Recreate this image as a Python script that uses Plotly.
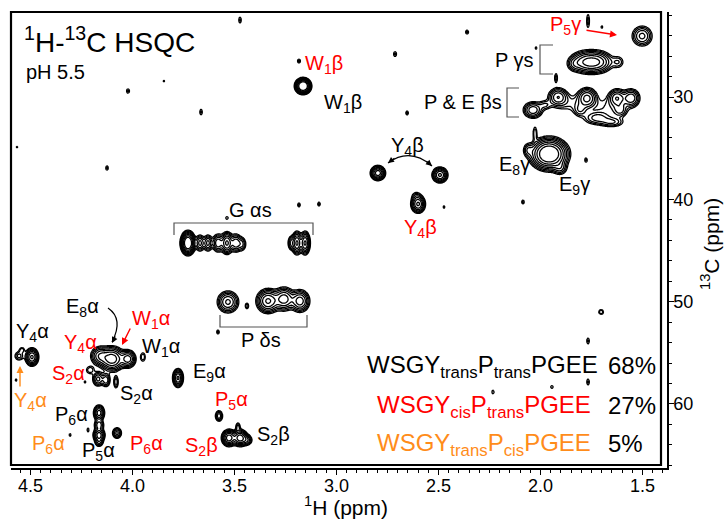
import numpy as np
import plotly.graph_objects as go

# ---------------- data: HSQC cross peaks ----------------
# 1H shift (ppm), 13C shift (ppm), Gaussian widths (ppm), relative intensity
peak_h = [3.473, 3.184, 3.164, 4.022, 3.664, 3.846, 4.566, 4.125, 2.360, 2.713,
          2.654, 1.767, 1.699, 1.502,
          1.780, 1.722, 1.620, 1.836,
          2.037, 1.914, 1.772, 1.625, 1.556, 1.723, 1.650, 1.806, 1.610, 1.924, 1.978,
          1.958, 1.904, 2.061, 2.027, 1.777,
          2.797, 2.493, 2.600, 2.610, 2.473, 2.086,
          3.728, 3.669, 3.630, 3.581, 3.537, 3.493, 3.463, 3.194, 3.154, 3.223,
          3.184, 3.086, 3.537,
          3.532, 3.439, 3.336, 3.257, 3.179, 3.581,
          4.493, 4.556, 4.542, 4.571,
          4.100, 4.159, 4.022, 3.949, 4.169, 4.130, 4.081, 4.208, 4.233,
          3.777,
          4.164, 4.164, 4.164, 4.164, 4.076, 4.218, 4.306, 3.576,
          3.527, 3.473, 3.439, 3.483,
          1.767, 1.767, 1.944, 2.233, 1.703, 2.022,
          1.850, 1.660]
peak_c = [22.48, 26.48, 28.93, 29.41, 31.47, 28.44, 34.89, 36.94, 23.65, 25.80,
          31.56, 22.57, 23.16, 24.04,
          26.58, 26.58, 26.58, 26.78,
          31.27, 30.00, 30.10, 30.10, 30.10, 32.05, 32.45, 31.27, 31.27, 28.14, 30.78,
          35.57, 36.94, 35.18, 33.52, 36.16,
          37.43, 37.62, 40.46, 39.67, 40.75, 40.26,
          44.27, 44.27, 44.27, 44.27, 44.27, 44.27, 44.37, 44.27, 44.27, 44.27,
          40.55, 40.46, 41.82,
          50.03, 50.42, 49.94, 49.74, 49.94, 52.97,
          55.41, 55.31, 54.72, 57.66,
          55.60, 55.31, 55.60, 55.41, 57.56, 57.66, 57.85, 56.68, 57.85,
          57.46,
          60.88, 62.05, 63.03, 63.71, 62.84, 62.54, 63.03, 61.17,
          63.32, 63.32, 63.52, 62.25,
          53.84, 57.85, 58.34, 58.83, 51.01, 25.21,
          30.60, 31.00]
peak_wh = [0.0064, 0.0074, 0.0167, 0.0074, 0.0064, 0.0049, 0.0049, 0.0064, 0.0074, 0.0074,
           0.0064, 0.0064, 0.0049, 0.0275,
           0.0390, 0.0390, 0.0196, 0.0196,
           0.0255, 0.0255, 0.0255, 0.0230, 0.0230, 0.0390, 0.0340, 0.0196, 0.0196, 0.0064, 0.0196,
           0.0420, 0.0196, 0.0147, 0.0074, 0.0064,
           0.0172, 0.0186, 0.0172, 0.0147, 0.0049, 0.0064,
           0.0157, 0.0123, 0.0123, 0.0147, 0.0147, 0.0147, 0.0123, 0.0123, 0.0123, 0.0098,
           0.0064, 0.0064, 0.0064,
           0.0270, 0.0074, 0.0280, 0.0260, 0.0240, 0.0064,
           0.0160, 0.0147, 0.0098, 0.0049,
           0.0294, 0.0245, 0.0196, 0.0098, 0.0147, 0.0123, 0.0074, 0.0147, 0.0049,
           0.0127,
           0.0137, 0.0137, 0.0147, 0.0123, 0.0123, 0.0049, 0.0049, 0.0108,
           0.0172, 0.0172, 0.0147, 0.0074,
           0.0064, 0.0064, 0.0064, 0.0059, 0.0098, 0.0049,
           0.0600, 0.0600]
peak_wc = [0.290, 0.195, 0.332, 0.215, 0.274, 0.098, 0.098, 0.215, 0.195, 0.244,
           0.195, 0.586, 0.147, 0.547,
           0.550, 0.550, 0.391, 0.391,
           0.430, 0.480, 0.530, 0.480, 0.480, 0.391, 0.293, 0.391, 0.391, 0.391, 0.293,
           0.700, 0.391, 0.391, 0.489, 0.215,
           0.342, 0.371, 0.430, 0.293, 0.147, 0.195,
           0.500, 0.440, 0.440, 0.470, 0.530, 0.470, 0.400, 0.550, 0.550, 0.420,
           0.195, 0.195, 0.147,
           0.550, 0.244, 0.580, 0.580, 0.550, 0.195,
           0.430, 0.293, 0.195, 0.127,
           0.580, 0.490, 0.440, 0.342, 0.391, 0.391, 0.391, 0.293, 0.127,
           0.440,
           0.391, 0.293, 0.342, 0.293, 0.293, 0.215, 0.147, 0.313,
           0.391, 0.391, 0.293, 0.293,
           0.293, 0.293, 0.147, 0.195, 0.195, 0.147,
           0.600, 0.700]
peak_amp = [1.6, 1.6, 30, 1.6, 1.6, 1.3, 1.3, 1.6, 1.6, 1.6,
            1.6, 1.8, 1.4, 5,
            8, 8, 2, 2,
            6, 6, 7, 6, 6, 3.5, 3, 2.5, 3, 1.8, 2,
            25, 3, 2.5, 2, 1.6,
            12, 10, 10, 1.5, 1.4, 1.6,
            25, 5, 5, 6, 10, 6, 3, 10, 10, 3,
            1.6, 1.6, 1.5,
            7, 1.8, 10, 8, 8, 1.6,
            10, 2.5, 1.8, 1.4,
            12, 6, 8, 2, 5, 4, 3, 2, 1.4,
            10,
            8, 4, 8, 3, 5, 1.5, 1.5, 4,
            12, 12, 4, 2.5,
            1.6, 1.6, 1.5, 1.5, 2, 1.4,
            1.5, 1.5]

x_range = [4.5956, 1.380]
y_range = [66.26, 21.69]

# legend text lines
species = ["WSGY<sub>trans</sub>P<sub>trans</sub>PGEE",
           "WSGY<sub>cis</sub>P<sub>trans</sub>PGEE",
           "WSGY<sub>trans</sub>P<sub>cis</sub>PGEE"]
percent = ["68%", "27%", "5%"]

RED = "#FF0000"
ORANGE = "#FF8C1A"
BLACK = "#000000"
FONT = "Liberation Sans, Arial, sans-serif"

# ---------------- spectrum surface ----------------
hx = np.linspace(min(x_range), max(x_range), 820)
cy = np.linspace(min(y_range), max(y_range), 600)
HH, CC = np.meshgrid(hx, cy)
S = np.zeros_like(HH)
for h, c, wh, wc, a in zip(peak_h, peak_c, peak_wh, peak_wc, peak_amp):
    S += a * np.exp(-0.5 * ((HH - h) / wh) ** 2 - 0.5 * ((CC - c) / wc) ** 2)
Z = np.log(S + 1e-4).astype(np.float32)
step = np.log(1.45)

fig = go.Figure(go.Contour(
    x=hx, y=cy, z=Z,
    contours=dict(start=0.0, end=step * 7, size=step, coloring="none"),
    line=dict(color="black", width=1.3, smoothing=1.0),
    showscale=False, hoverinfo="skip",
))

# ---------------- layout geometry (pixel helpers) ----------------
L, R, T, B = 11, 667, 12, 468
W, H = 724, 523


def px(x, y):
    return (x - L) / (R - L), (B - y) / (B - T)


annotations = []


def label(text, color, x, y, size=20, anchor="left", angle=0):
    ax_, ay_ = px(x, y)
    annotations.append(dict(text=text, x=ax_, y=ay_, xref="paper", yref="paper",
                            xanchor=anchor, yanchor="middle", showarrow=False,
                            textangle=angle,
                            font=dict(family=FONT, size=size, color=color)))


def arrow(color, head, tail, width=1.4):
    hx_, hy_ = px(*head)
    annotations.append(dict(text="", x=hx_, y=hy_, xref="paper", yref="paper",
                            ax=tail[0] - head[0], ay=tail[1] - head[1],
                            showarrow=True, arrowhead=2, arrowsize=1,
                            arrowwidth=width, arrowcolor=color))


# title
label("<sup>1</sup>H-<sup>13</sup>C HSQC", BLACK, 22, 40, size=28)
label("pH 5.5", BLACK, 24, 72, size=20)

# peak labels
label("W<sub>1</sub>β", RED, 303, 64)
label("W<sub>1</sub>β", BLACK, 322, 103)
label("P γs", BLACK, 536, 60, anchor="right")
label("P & E βs", BLACK, 504, 102, anchor="right")
label("P<sub>5</sub>γ", RED, 583, 26, anchor="right")
label("E<sub>8</sub>γ", BLACK, 497, 165)
label("E<sub>9</sub>γ", BLACK, 557, 185)
label("Y<sub>4</sub>β", BLACK, 407, 146, anchor="center")
label("Y<sub>4</sub>β", RED, 420, 228, anchor="center")
label("G αs", BLACK, 250, 210, anchor="center")
label("P δs", BLACK, 261, 340, anchor="center")
label("Y<sub>4</sub>α", BLACK, 14, 332)
label("E<sub>8</sub>α", BLACK, 64, 307)
label("W<sub>1</sub>α", RED, 130, 319)
label("Y<sub>4</sub>α", RED, 62, 343)
label("W<sub>1</sub>α", BLACK, 140, 347)
label("S<sub>2</sub>α", RED, 50, 374)
label("Y<sub>4</sub>α", ORANGE, 12, 401)
label("E<sub>9</sub>α", BLACK, 191, 372)
label("S<sub>2</sub>α", BLACK, 118, 394)
label("P<sub>5</sub>α", RED, 213, 400)
label("P<sub>6</sub>α", BLACK, 53, 415)
label("P<sub>6</sub>α", ORANGE, 30, 444)
label("P<sub>5</sub>α", BLACK, 80, 451)
label("P<sub>6</sub>α", RED, 128, 444)
label("S<sub>2</sub>β", RED, 183, 446)
label("S<sub>2</sub>β", BLACK, 255, 435)

# species legend
for i, (sp, col, yy, xr) in enumerate(zip(species, [BLACK, RED, ORANGE],
                                           [366, 406, 444], [600, 593, 593])):
    label(sp, col, xr, yy, size=24, anchor="right")
    label(percent[i], BLACK, 606, yy - 1, size=24, anchor="left")

# axis titles
label("<sup>1</sup>H (ppm)", BLACK, 346, 506, size=21, anchor="center")
label("<sup>13</sup>C (ppm)", BLACK, 710, 244, size=21, anchor="center", angle=-90)

# arrows
arrow(RED, (617, 35), (585, 30))
arrow(ORANGE, (20, 366), (20, 388))
arrow(RED, (122, 345), (131, 327))
arrow(BLACK, (112, 343), (116, 335), width=1.2)
arrow(BLACK, (388, 163), (396, 157), width=1.2)
arrow(BLACK, (432, 166), (425, 160), width=1.2)

# shapes: frame, brackets, curved arrows
shapes = []
fx1, fy0 = px(661, 465)
shapes.append(dict(type="rect", xref="paper", yref="paper", x0=0, y0=fy0, x1=fx1, y1=1,
                   line=dict(color="black", width=2.2)))


def path_shape(points, color="#555555", width=1.2, curve=False):
    if curve:
        (x0, y0), (cx, cy_), (x1, y1) = points
        a, b, c = px(x0, y0), px(cx, cy_), px(x1, y1)
        d = f"M {a[0]},{a[1]} Q {b[0]},{b[1]} {c[0]},{c[1]}"
    else:
        pts = [px(*p) for p in points]
        d = "M " + " L ".join(f"{p[0]},{p[1]}" for p in pts)
    shapes.append(dict(type="path", xref="paper", yref="paper", path=d,
                       line=dict(color=color, width=width)))


path_shape([(174, 235), (174, 223), (313, 223), (313, 235)])
path_shape([(220, 315), (220, 327), (307, 327), (307, 315)])
path_shape([(553, 45), (540, 45), (540, 74), (553, 74)])
path_shape([(519, 88), (507, 88), (507, 117), (519, 117)])
path_shape([(108, 308), (124, 319), (112, 342)], color="black", curve=True)
path_shape([(388, 163), (410, 147), (432, 166)], color="black", curve=True)

tickfont = dict(family=FONT, size=18, color="black")
fig.update_layout(
    width=W, height=H,
    margin=dict(l=L, r=W - R, t=T, b=H - B, pad=0),
    paper_bgcolor="white", plot_bgcolor="white",
    showlegend=False,
    annotations=annotations, shapes=shapes,
    xaxis=dict(range=x_range, showgrid=False, zeroline=False, showline=True,
               linecolor="black", linewidth=1.5, ticks="outside", ticklen=5,
               tickwidth=1.2, tickcolor="black", dtick=0.5, tick0=0,
               tickformat=".1f", tickfont=tickfont, ticklabelstandoff=-4,
               minor=dict(dtick=0.05, tick0=0, ticks="outside", ticklen=3,
                          tickcolor="black", tickwidth=1)),
    yaxis=dict(range=y_range, side="right", showgrid=False, zeroline=False,
               showline=True, linecolor="black", linewidth=1.5,
               ticks="outside", ticklen=5, tickwidth=1.2, tickcolor="black",
               dtick=10, tick0=0, tickfont=tickfont, ticklabelstandoff=-4,
               minor=dict(dtick=2, tick0=0, ticks="outside", ticklen=3,
                          tickcolor="black", tickwidth=1)),
)

fig.write_html("out.html",
               config={"displayModeBar": False},
               post_script="document.body.style.margin='0px';"
                           "document.body.style.padding='0px';")
